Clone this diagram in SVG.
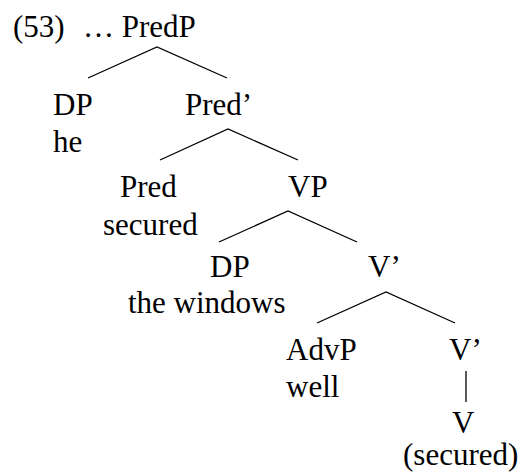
<svg xmlns="http://www.w3.org/2000/svg" width="523" height="475" viewBox="0 0 523 475">
  <style>
    .lbl { font-family: 'Liberation Serif', 'Times New Roman', serif; font-size: 31px; fill: #000; }
    .edge { stroke: #000; stroke-width: 1.3; fill: none; }
  </style>
  <rect width="523" height="475" fill="#fff"/>

  <!-- branches -->
  <g id="connectors">
    <polyline class="edge" points="88,78 157,47 227,78"/>
    <polyline class="edge" points="160,160 228,129 298,160"/>
    <polyline class="edge" points="219,242 288,211 357,242"/>
    <polyline class="edge" points="317,323 386,292 455,323"/>
    <line class="edge" x1="466" y1="371" x2="466" y2="402"/>
  </g>

  <g class="lbl">
    <g id="predp">
      <text x="13" y="37">(53)</text>
      <text x="83" y="37">… PredP</text>
    </g>
    <g id="dp-he">
      <text x="53" y="115">DP</text>
      <text x="53" y="152">he</text>
    </g>
    <g id="pred-bar">
      <text x="185" y="115">Pred’</text>
    </g>
    <g id="pred">
      <text x="120" y="197">Pred</text>
      <text x="103" y="235">secured</text>
    </g>
    <g id="vp">
      <text x="288" y="197">VP</text>
    </g>
    <g id="dp-windows">
      <text x="210" y="277">DP</text>
      <text x="128" y="313">the windows</text>
    </g>
    <g id="v-bar-1">
      <text x="368" y="277">V’</text>
    </g>
    <g id="advp">
      <text x="286" y="360">AdvP</text>
      <text x="286" y="397">well</text>
    </g>
    <g id="v-bar-2">
      <text x="449" y="360">V’</text>
    </g>
    <g id="v">
      <text x="452" y="433">V</text>
      <text x="403" y="465">(secured)</text>
    </g>
  </g>
</svg>
